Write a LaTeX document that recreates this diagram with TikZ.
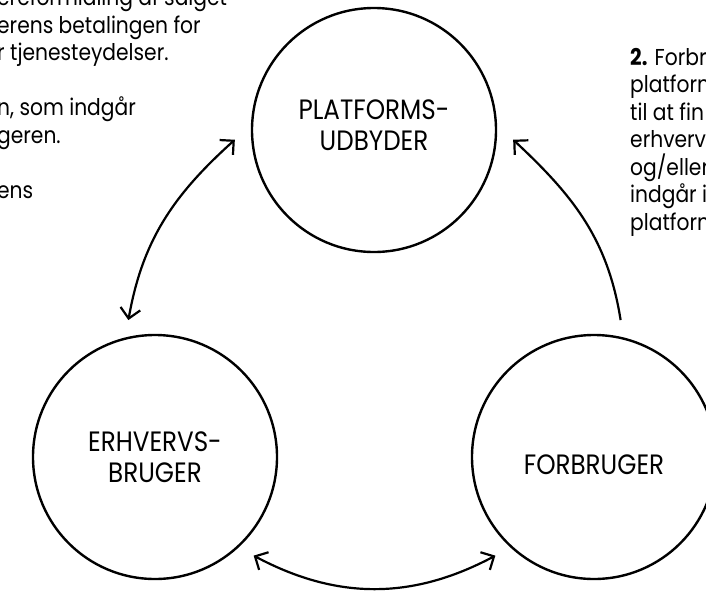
\documentclass[tikz,border=0pt]{standalone}
\usepackage{fontspec}
\setmainfont{Poppins}[FakeStretch=0.88]
\usetikzlibrary{arrows.meta}

\begin{document}
\begin{tikzpicture}[
    x=1pt, y=1pt,
    party/.style={draw, circle, line width=2.4pt, minimum size=244pt, outer sep=17.5pt, align=center, font=\fontsize{28}{31}\selectfont},
    link/.style={line width=2.2pt, >={Straight Barb[length=10pt, width=20pt]}},
    note/.style={align=left, inner sep=0pt, font=\fontsize{23}{27.5}\selectfont}
]

\clip (0,0) rectangle (706,-590);

% the three parties
\node[party, text depth=9pt] (platform) at (374,-130) {PLATFORMS-\\UDBYDER};
\node[party] (business) at (155,-457) {ERHVERVS-\\BRUGER};
\node[party, text height=36pt] (consumer) at (594,-457) {FORBRUGER};

% text beside the circles (runs past the page edge)
\node[note, anchor=north west] (leftnote) at (-3,12) {ereformidling af salget\\erens betalingen for\\r tjenesteydelser.\\ \\n, som indgår\\geren.\\ \\ens};
\node[note, anchor=north west] (rightnote) at (630,-48) {\textbf{2.} Forbr\\platform\\til at fin\\erhverv\\og/eller\\indgår i\\platform};

% arrows between the parties
\draw[link, <->] (platform.184) to[out=222, in=80] (business.101);
\draw[link, <->] (business.-45) to[out=-28, in=208] (consumer.225);
\draw[link, ->] (consumer.79) to[out=99, in=-43] (platform.-4);

\end{tikzpicture}
\end{document}
